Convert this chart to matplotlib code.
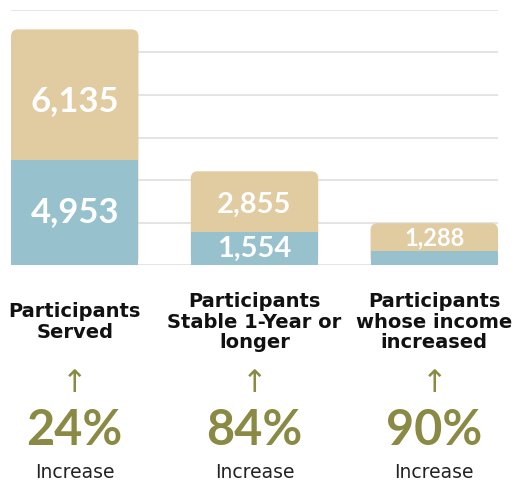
import matplotlib
matplotlib.use("Agg")
import matplotlib.pyplot as plt
import matplotlib.transforms as mtransforms
from matplotlib.patches import FancyBboxPatch
import numpy as np

categories = ["Participants\nServed", "Participants\nStable 1-Year or\nlonger",
              "Participants\nwhose income\nincreased"]
before = [4953, 1554, 678]      # blue part
after = [6135, 2855, 1288]      # tan part
increase = ["24%", "84%", "90%"]

blue = "#97c1cd"
tan = "#e1cba1"
olive = "#8a8a45"
grid_c = "#dcdcdc"

fig = plt.figure(figsize=(5.28, 4.86), dpi=100)
ax = fig.add_axes([11 / 528, 1 - 265 / 486, 487 / 528, 255 / 486])

x = np.arange(len(categories))
w = 0.709
ax.set_xlim(-w / 2, x[-1] + w / 2)
ax.set_ylim(0, 12000)
ax.set_yticks(np.arange(0, 12001, 2000))
ax.yaxis.grid(True, color=grid_c, linewidth=1.1)
ax.set_axisbelow(True)
for s in ax.spines.values():
    s.set_visible(False)
ax.tick_params(left=False, bottom=False, labelleft=False, labelbottom=False)

totals = np.array(before) + np.array(after)

# tan bars drawn full height with rounded corners, blue bars cover the bottom
bars = ax.bar(x, totals, w, color=tan, zorder=2)
fig.canvas.draw()
px_x = ax.transData.transform([(1, 0)])[0][0] - ax.transData.transform([(0, 0)])[0][0]
px_y = ax.transData.transform([(0, 1000)])[0][1] - ax.transData.transform([(0, 0)])[0][1]
aspect = (1000 / px_y) / (1 / px_x)
r = 7 / px_x
for b in bars:
    fb = FancyBboxPatch((b.get_x(), b.get_y()), b.get_width(), b.get_height(),
                        boxstyle="round,pad=0,rounding_size=%f" % r,
                        mutation_aspect=aspect, facecolor=tan, edgecolor="none", zorder=2)
    b.remove()
    ax.add_patch(fb)
ax.bar(x, before, w, color=blue, zorder=3)

sizes = [25, 21, 17]
for i in range(len(x)):
    ax.text(x[i], before[i] + after[i] * 0.45, f"{after[i]:,}", ha="center", va="center",
            color="white", fontsize=sizes[i], fontweight="bold", family=["Lato", "DejaVu Sans"],
            zorder=4)
    if i < 2:
        ax.text(x[i], before[i] / 2, f"{before[i]:,}", ha="center", va="center",
                color="white", fontsize=sizes[i], fontweight="bold",
                family=["Lato", "DejaVu Sans"], zorder=4)

tr = mtransforms.blended_transform_factory(ax.transData, fig.transFigure)
for i in range(len(x)):
    fig.text(x[i], 1 - 322 / 486, categories[i], transform=tr, ha="center", va="center",
             fontsize=14, fontweight="bold", linespacing=1.1, color="#111111",
             family=["DejaVu Sans"])
    fig.text(x[i], 1 - 384 / 486, "\u2191", transform=tr, ha="center", va="center",
             fontsize=22, color=olive, family=["DejaVu Sans"])
    fig.text(x[i], 1 - 430 / 486, increase[i], transform=tr, ha="center", va="center",
             fontsize=35, fontweight="bold", color=olive, family=["Lato", "DejaVu Sans"])
    fig.text(x[i], 1 - 472 / 486, "Increase", transform=tr, ha="center", va="center",
             fontsize=13.5, color="#222222", family=["DejaVu Sans"])

fig.savefig("out.png", dpi=100, facecolor="white")
